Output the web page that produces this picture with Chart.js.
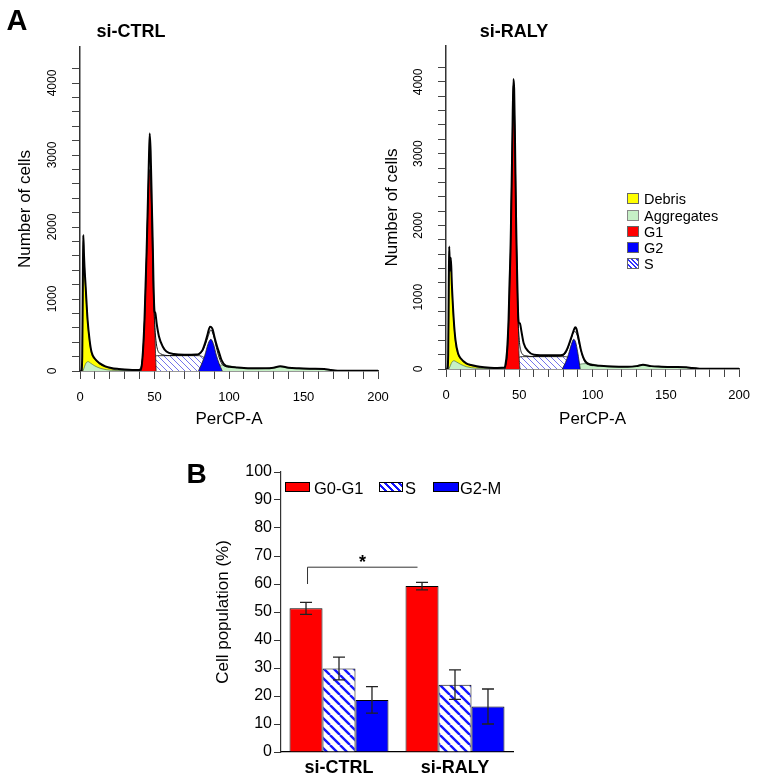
<!DOCTYPE html>
<html><head><meta charset="utf-8">
<script src="https://cdn.jsdelivr.net/npm/chart.js@4.4.1/dist/chart.umd.min.js"></script>
<style>
html,body{margin:0;padding:0;background:#fff;}
body{width:761px;height:778px;position:relative;overflow:hidden;font-family:'Liberation Sans',Arial,sans-serif;color:#000;}
canvas{position:absolute;}
.c{position:absolute;line-height:1;transform:translate(-50%,-50%);white-space:nowrap;}
.l{position:absolute;line-height:1;transform:translateY(-50%);white-space:nowrap;}
.box{position:absolute;box-sizing:border-box;}
</style></head><body>
<canvas id="h1" width="400" height="432" style="left:0px;top:0px"></canvas>
<canvas id="h2" width="381" height="432" style="left:380px;top:0px"></canvas>
<canvas id="bar" width="360" height="323" style="left:170px;top:455px"></canvas>

<div class="c" style="left:17px;top:19.5px;font-size:29px;font-weight:bold">A</div>
<div class="c" style="left:131px;top:31px;font-size:18px;font-weight:bold">si-CTRL</div>
<div class="c" style="left:514px;top:31px;font-size:18px;font-weight:bold">si-RALY</div>
<div class="c" style="left:196.5px;top:474px;font-size:28px;font-weight:bold">B</div>

<!-- histogram legend -->
<div class="box" style="left:627px;top:193px;width:12px;height:11px;background:#ffff00;border:1px solid #666"></div>
<div class="box" style="left:627px;top:210px;width:12px;height:11px;background:#c6f0c6;border:1px solid #888"></div>
<div class="box" style="left:627px;top:226px;width:12px;height:11px;background:#ff0000;border:1px solid #666"></div>
<div class="box" style="left:627px;top:242px;width:12px;height:11px;background:#0000ff;border:1px solid #666"></div>
<div class="box" style="left:627px;top:258px;width:12px;height:11px;background:repeating-linear-gradient(45deg,#fff 0px,#fff 2px,#3030ff 2px,#3030ff 3.2px);border:1px solid #666"></div>
<div class="l" style="left:644px;top:199px;font-size:14.5px">Debris</div>
<div class="l" style="left:644px;top:216px;font-size:14.5px">Aggregates</div>
<div class="l" style="left:644px;top:232px;font-size:14.5px">G1</div>
<div class="l" style="left:644px;top:248px;font-size:14.5px">G2</div>
<div class="l" style="left:644px;top:264px;font-size:14.5px">S</div>

<!-- bar legend -->
<div class="box" style="left:285px;top:482px;width:25px;height:10px;background:#ff0000;border:1px solid #000"></div>
<div class="box" style="left:379px;top:482px;width:24px;height:10px;background:repeating-linear-gradient(45deg,#fff 0px,#fff 3px,#1515ff 3px,#1515ff 5px);border:1px solid #000"></div>
<div class="box" style="left:433px;top:482px;width:26px;height:10px;background:#0000ff;border:1px solid #000"></div>
<div class="l" style="left:314px;top:488px;font-size:16.5px">G0-G1</div>
<div class="l" style="left:405px;top:488px;font-size:16.5px">S</div>
<div class="l" style="left:460px;top:488px;font-size:16.5px">G2-M</div>

<script>
// ---------- Histogram data (PerCP-A channel, number of cells) ----------
const ctrlData = [[1,0],[1.5,200],[1.9,1200],[2.2,1890],[2.6,1650],[3,1450],[3.8,1170],[5.1,708],[6.5,420],[7.8,260],[10,170],[13,110],[17,65],[21,42],[26,28],[30,20],[35,15],[40,15],[41,30],[42.2,260],[43.3,720],[44,1190],[44.7,1660],[45.3,2130],[46.2,2900],[46.8,3300],[47.4,3050],[48.4,2150],[48.9,1700],[49.3,1250],[50,830],[50.5,810],[51.5,650],[53,480],[55.5,340],[58,270],[63,235],[70,225],[78,228],[80,240],[82.2,290],[84,390],[85.5,500],[87.3,616],[88,612],[89,580],[90.5,450],[92,340],[93.3,260],[95,150],[97.8,70],[100,60],[105,50],[110,42],[118,38],[124,37],[130,45],[134.4,65],[140,45],[147,37],[155,32],[164,27],[168,15],[173,5],[180,3],[200,2]];
const ctrlFit = [[40,10],[42,200],[44,1100],[45.5,2300],[46.8,3100],[48,2300],[49,1300],[50,700],[51,420],[52,300],[54,240],[60,215],[70,215],[80,230],[82,270],[84,360],[86,480],[87.8,570],[89.5,500],[91.5,330],[93.5,180],[96,80],[100,55]];
const ctrlDebris = [[1.5,0],[1.8,900],[2.2,1850],[3,1450],[3.8,1130],[5.1,690],[6.5,400],[7.8,240],[10,160],[13,100],[17,55],[21,30],[26,12],[32,0]];
const ctrlAggr = [[2,0],[3,60],[4,110],[5.5,130],[7,110],[10,70],[14,35],[21,10],[30,5],[40,5],[45,15],[50,40],[55,50],[60,40],[70,30],[80,40],[88,60],[93,80],[97,83],[102,65],[107,40],[115,30],[125,35],[134,60],[140,40],[147,30],[160,22],[165,20],[173,5],[200,3]];
const ctrlG1 = [[41,0],[42.2,245],[43.3,708],[44,1170],[44.7,1634],[45.3,2097],[46.2,2650],[47,2800],[47.7,2500],[48.4,2097],[48.9,1634],[49.3,1170],[50,708],[50.7,245],[51.1,0]];
const ctrlS = [[47,0],[48,80],[49,170],[50.5,205],[52,213],[60,213],[70,213],[80,213],[83,190],[86,140],[89,80],[93,0]];
const ctrlG2 = [[79.5,0],[81.8,106],[83.8,220],[86,380],[87.8,440],[89.5,380],[91.5,220],[93.3,106],[95.5,0]];
const ctrlMarkers = [47, 88];

const ralyData = [[1,0],[1.5,200],[1.9,1200],[2.2,1705],[2.7,1380],[3.3,1551],[4,1180],[5.3,683],[6.5,400],[8.2,218],[10,150],[13.8,79],[17,55],[21,38],[26,25],[30,18],[35,14],[40,20],[40.4,40],[41.6,240],[42.7,700],[43.3,1170],[44,1640],[44.4,2100],[45.2,3100],[46,4040],[46.5,3900],[47,3300],[47.8,2100],[48.2,1640],[48.7,1170],[49.3,720],[50,640],[50.4,637],[51.5,520],[53,360],[56,250],[60,200],[70,190],[78,192],[80,200],[82,250],[84,350],[86,470],[87.5,560],[88.2,581],[89,560],[90,470],[91,370],[92,270],[93.5,170],[95,110],[97,75],[100,55],[105,45],[110,38],[118,33],[124,32],[130,40],[134.4,58],[140,40],[147,33],[155,28],[164,24],[168,13],[173,5],[180,3],[200,2]];
const ralyFit = [[40,10],[42,250],[43.5,1200],[45,2900],[46,3950],[47,3300],[48,1900],[49,800],[50,400],[51,260],[52,210],[54,185],[60,175],[70,175],[80,190],[83,280],[85,400],[87.5,520],[89,500],[91,340],[93,190],[95,90],[98,55],[100,45]];
const ralyDebris = [[1.5,0],[1.9,1000],[2.2,1650],[2.7,1350],[3.3,1500],[4,1150],[5.3,660],[6.5,380],[8.2,210],[10,140],[13.8,75],[17,50],[21,28],[26,12],[32,0]];
const ralyAggr = [[2,0],[3,50],[4,95],[5.5,115],[7,100],[10,65],[14,32],[21,10],[30,5],[40,5],[45,15],[50,35],[55,45],[60,35],[70,28],[80,35],[88,55],[93,72],[97,75],[102,60],[107,38],[115,28],[125,32],[134,55],[140,36],[147,27],[160,20],[165,18],[173,5],[200,3]];
const ralyG1 = [[40.4,0],[41.6,218],[42.7,683],[43.3,1147],[44,1612],[44.4,2077],[45.2,3000],[46,3950],[46.8,3200],[47.8,2077],[48.2,1612],[48.7,1147],[49.3,683],[49.8,218],[50.4,0]];
const ralyS = [[47,0],[48,70],[49,140],[50.4,168],[52,172],[60,172],[70,172],[81.6,172],[84,150],[86.5,110],[88.5,60],[90.4,0]];
const ralyG2 = [[79.3,0],[81.5,90],[83.5,200],[85.5,340],[87.1,414],[88.5,370],[89.8,240],[90.8,110],[91.6,0]];
const ralyMarkers = [46, 88.5];

const histXTicks = [0, 50, 100, 150, 200];
const histYTicks = [0, 1000, 2000, 3000, 4000];

// ---------- Bar chart data ----------
const categories = ['si-CTRL', 'si-RALY'];
const g1Values = [51.3, 59.25];
const g1Err = [2.15, 1.35];
const sValues = [29.8, 24.05];
const sErr = [4.05, 5.25];
const g2Values = [18.6, 16.25];
const g2Err = [4.75, 6.25];
const barYTicks = [0,10,20,30,40,50,60,70,80,90,100];
const sigBracket = {from: 0, to: 1, legLow: 60, level: 66, star: '*'};

Chart.defaults.font.family = "'Liberation Sans', Arial, sans-serif";
Chart.defaults.color = '#000';

function makeHatch(color, s, lw) {
  const c = document.createElement('canvas');
  c.width = s; c.height = s;
  const x = c.getContext('2d');
  x.fillStyle = '#fff'; x.fillRect(0, 0, s, s);
  x.strokeStyle = color; x.lineWidth = lw;
  x.beginPath();
  for (const k of [-s, 0, s]) { x.moveTo(k, 0); x.lineTo(k + s, s); }
  x.stroke();
  return x.createPattern(c, 'repeat');
}
const toXY = arr => arr.map(p => ({x: p[0], y: p[1]}));

function hist(id, d, cfg) {
  const hatch = makeHatch('#7474ea', 6, 1);
  return new Chart(document.getElementById(id), {
    type: 'line',
    data: { datasets: [
      {data: d.markers.map(v => ({x: v, y: -118})), showLine: false, pointStyle: 'triangle', pointRadius: 6.5, backgroundColor: '#000', borderColor: '#000', clip: false, order: 0},
      {data: toXY(d.data), borderColor: '#000', borderWidth: 2, fill: false, order: 1},
      {data: toXY(d.fit), borderColor: '#111', borderWidth: 1, fill: false, order: 2},
      {data: toXY(d.g2), borderColor: '#222', borderWidth: 0.8, backgroundColor: '#0000ff', fill: 'origin', order: 3},
      {data: toXY(d.g1), borderColor: '#222', borderWidth: 0.8, backgroundColor: '#ff0000', fill: 'origin', order: 4},
      {data: toXY(d.s), borderColor: '#222', borderWidth: 0.9, backgroundColor: hatch, fill: 'origin', order: 5},
      {data: toXY(d.aggr), borderColor: '#4a6a4a', borderWidth: 0.7, backgroundColor: '#c6f0c6', fill: 'origin', order: 6},
      {data: toXY(d.debris), borderColor: '#333', borderWidth: 0.8, backgroundColor: '#ffff00', fill: 'origin', order: 7}
    ]},
    options: {
      responsive: false, devicePixelRatio: 1, animation: false, events: [],
      layout: {padding: cfg.pad},
      plugins: {legend: {display: false}, tooltip: {enabled: false}},
      elements: {point: {radius: 0}, line: {tension: 0.3, cubicInterpolationMode: 'monotone'}},
      scales: {
        x: {
          type: 'linear', min: 0, max: 200,
          afterFit(s) { s.height = cfg.xh; },
          ticks: {stepSize: 10, autoSkip: false, maxRotation: 0, padding: 11, font: {size: 13}, color: '#000',
                  callback: v => histXTicks.includes(v) ? String(v) : ''},
          grid: {drawOnChartArea: false, drawTicks: true, tickLength: 8, color: '#444', lineWidth: 1},
          border: {display: true, color: '#333', width: 1.5},
          title: {display: true, text: 'PerCP-A', font: {size: 17}, color: '#000', padding: {top: 0, bottom: 2}}
        },
        y: {
          min: 0, max: 4500,
          afterFit(s) { s.width = cfg.yw; },
          afterBuildTicks(s) { s.ticks = s.ticks.filter(t => t.value <= 4200); },
          ticks: {stepSize: 200, autoSkip: false, minRotation: 90, maxRotation: 90, crossAlign: 'center', padding: 6,
                  font: {size: 12}, color: '#000', callback: v => histYTicks.includes(v) ? String(v) : ''},
          grid: {drawOnChartArea: false, drawTicks: true, tickLength: 8, color: '#444', lineWidth: 1},
          border: {display: true, color: '#333', width: 1.5},
          title: {display: true, text: 'Number of cells', font: {size: 17}, color: '#000', padding: {top: 0, bottom: 0}}
        }
      }
    }
  });
}

hist('h1', {data: ctrlData, fit: ctrlFit, debris: ctrlDebris, aggr: ctrlAggr, g1: ctrlG1, s: ctrlS, g2: ctrlG2, markers: ctrlMarkers},
     {pad: {left: 15, top: 47, right: 22, bottom: 0}, yw: 65, xh: 61});
hist('h2', {data: ralyData, fit: ralyFit, debris: ralyDebris, aggr: ralyAggr, g1: ralyG1, s: ralyS, g2: ralyG2, markers: ralyMarkers},
     {pad: {left: 2, top: 46, right: 15, bottom: 0}, yw: 64, xh: 63});

// ---------- Bar chart ----------
const barAnnot = {
  id: 'barAnnot',
  afterDatasetsDraw(chart) {
    const ctx = chart.ctx, ys = chart.scales.y;
    const errs = [g1Err, sErr, g2Err];
    ctx.save();
    ctx.strokeStyle = '#222'; ctx.lineWidth = 1.3;
    chart.data.datasets.forEach((ds, i) => {
      chart.getDatasetMeta(i).data.forEach((bar, j) => {
        const v = ds.data[j], e = errs[i][j];
        const yt = ys.getPixelForValue(v + e), yb = ys.getPixelForValue(v - e);
        ctx.beginPath();
        ctx.moveTo(bar.x, yt); ctx.lineTo(bar.x, yb);
        ctx.moveTo(bar.x - 6, yt); ctx.lineTo(bar.x + 6, yt);
        ctx.moveTo(bar.x - 6, yb); ctx.lineTo(bar.x + 6, yb);
        ctx.stroke();
      });
    });
    // significance bracket
    const m = chart.getDatasetMeta(0).data;
    const x1 = m[sigBracket.from].x + 1.5, x2 = m[sigBracket.to].x - 4.5;
    const yl = ys.getPixelForValue(sigBracket.level), yLow = ys.getPixelForValue(sigBracket.legLow);
    ctx.strokeStyle = '#333'; ctx.lineWidth = 1;
    ctx.beginPath();
    ctx.moveTo(x1, yLow); ctx.lineTo(x1, yl); ctx.lineTo(x2, yl);
    ctx.stroke();
    ctx.fillStyle = '#000';
    ctx.font = "bold 18px 'Liberation Sans', Arial, sans-serif";
    ctx.textAlign = 'center'; ctx.textBaseline = 'alphabetic';
    ctx.fillText(sigBracket.star, (x1 + x2) / 2, yl + 1);
    ctx.restore();
  }
};

new Chart(document.getElementById('bar'), {
  type: 'bar',
  data: {
    labels: categories,
    datasets: [
      {label: 'G0-G1', data: g1Values, backgroundColor: '#ff0000', borderColor: '#000', borderWidth: 1},
      {label: 'S', data: sValues, backgroundColor: makeHatch('#1515ff', 10, 2.4), borderColor: '#000', borderWidth: 1},
      {label: 'G2-M', data: g2Values, backgroundColor: '#0000ff', borderColor: '#000', borderWidth: 1}
    ]
  },
  options: {
    responsive: false, devicePixelRatio: 1, animation: false, events: [],
    layout: {padding: {left: 43, top: 17, right: 17, bottom: 0}},
    datasets: {bar: {categoryPercentage: 0.853, barPercentage: 1}},
    plugins: {legend: {display: false}, tooltip: {enabled: false}},
    scales: {
      x: {
        afterFit(s) { s.height = 26; },
        grid: {display: false, drawTicks: false},
        border: {display: true, color: '#000', width: 1.2},
        ticks: {padding: 5, font: {size: 18, weight: 'bold'}, color: '#000'}
      },
      y: {
        min: 0, max: 100,
        afterFit(s) { s.width = 68; },
        afterBuildTicks(s) { s.ticks = barYTicks.map(v => ({value: v})); },
        ticks: {stepSize: 10, padding: 2, font: {size: 16}, color: '#000'},
        grid: {drawOnChartArea: false, tickLength: 7, color: '#333'},
        border: {display: true, color: '#333', width: 1.2},
        title: {display: true, text: 'Cell population (%)', font: {size: 17}, color: '#000', padding: {top: 0, bottom: 0}}
      }
    }
  },
  plugins: [barAnnot]
});
</script>
</body></html>
